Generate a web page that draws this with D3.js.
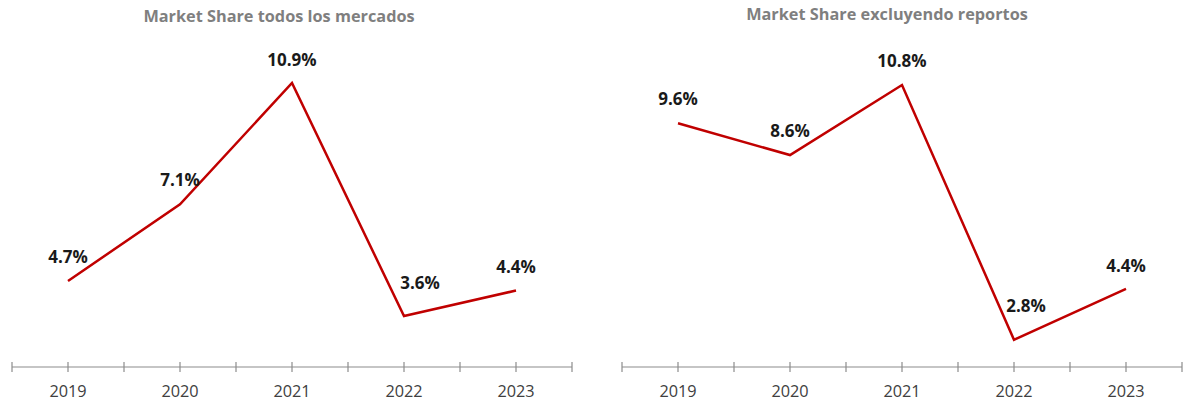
<!DOCTYPE html>
<html>
<head>
<meta charset="utf-8">
<script src="https://cdn.jsdelivr.net/npm/d3@7"></script>
<style>
  body { margin: 0; background: #fff; }
  svg { display: block; font-family: "Open Sans", sans-serif; }
  .title { font-size: 16.3px; font-weight: bold; fill: #7f7f7f; }
  .lbl { font-size: 17px; font-weight: bold; fill: #1a1a1a; }
  .axis text { font-size: 16.3px; fill: #404040; font-family: "Open Sans", sans-serif; }
  .axis path, .axis line { stroke: #8c8c8c; stroke-width: 1.2; }
</style>
</head>
<body>
<script>
//chart data
var years = ["2019", "2020", "2021", "2022", "2023"];
var allMarkets = [4.7, 7.1, 10.9, 3.6, 4.4];
var exclReports = [9.6, 8.6, 10.8, 2.8, 4.4];
var titles = ["Market Share todos los mercados", "Market Share excluyendo reportos"];

var width = 1188, height = 402;

var svg = d3.select("body").append("svg")
	.attr("width", width)
	.attr("height", height);

//panel layout: x extent of axis, title center, label offsets
var panels = [
	{ x0: 12, x1: 572, titleX: 279, titleY: 22, zeroY: 431, topY: 83, series: allMarkets,
	  offsets: [[0, -18], [0, -18], [0, -17], [16, -27], [0, -18]] },
	{ x0: 622, x1: 1182, titleX: 887, titleY: 20, zeroY: 429, topY: 85, series: exclReports,
	  offsets: [[0, -18], [0, -18], [0, -18], [12, -28], [0, -17]] }
];

var axisY = 367;

panels.forEach(function(p, k){
	var g = svg.append("g");

	var x = d3.scaleBand()
		.domain(years)
		.range([p.x0, p.x1]);

	var maxVal = d3.max(p.series);
	var y = d3.scaleLinear()
		.domain([0, maxVal])
		.range([p.zeroY, p.topY]);

	//title
	g.append("text")
		.attr("class", "title")
		.attr("x", p.titleX)
		.attr("y", p.titleY)
		.attr("text-anchor", "middle")
		.text(titles[k]);

	//axis with ticks on boundaries and centers
	var tickPos = [];
	years.forEach(function(d){
		tickPos.push(x(d));
		tickPos.push(x(d) + x.bandwidth() / 2);
	});
	tickPos.push(p.x1);

	var ax = g.append("g").attr("class", "axis");
	ax.append("line")
		.attr("x1", p.x0).attr("x2", p.x1)
		.attr("y1", axisY).attr("y2", axisY);
	ax.selectAll(".tk")
		.data(tickPos)
		.enter()
		.append("line")
		.attr("class", "tk")
		.attr("x1", function(d){ return d; })
		.attr("x2", function(d){ return d; })
		.attr("y1", axisY - 5)
		.attr("y2", axisY + 5);
	ax.selectAll(".yr")
		.data(years)
		.enter()
		.append("text")
		.attr("class", "yr")
		.attr("x", function(d){ return x(d) + x.bandwidth() / 2; })
		.attr("y", 397)
		.attr("text-anchor", "middle")
		.text(function(d){ return d; });

	//line
	var line = d3.line()
		.x(function(d, i){ return x(years[i]) + x.bandwidth() / 2; })
		.y(function(d){ return y(d); });

	g.append("path")
		.datum(p.series)
		.attr("d", line)
		.attr("fill", "none")
		.attr("stroke", "#c00000")
		.attr("stroke-width", 2.5)
		.attr("stroke-linejoin", "miter");

	//data labels
	g.selectAll(".lbl")
		.data(p.series)
		.enter()
		.append("text")
		.attr("class", "lbl")
		.attr("x", function(d, i){ return x(years[i]) + x.bandwidth() / 2 + p.offsets[i][0]; })
		.attr("y", function(d, i){ return y(d) + p.offsets[i][1]; })
		.attr("text-anchor", "middle")
		.text(function(d){ return d.toFixed(1) + "%"; });
});
</script>
</body>
</html>
